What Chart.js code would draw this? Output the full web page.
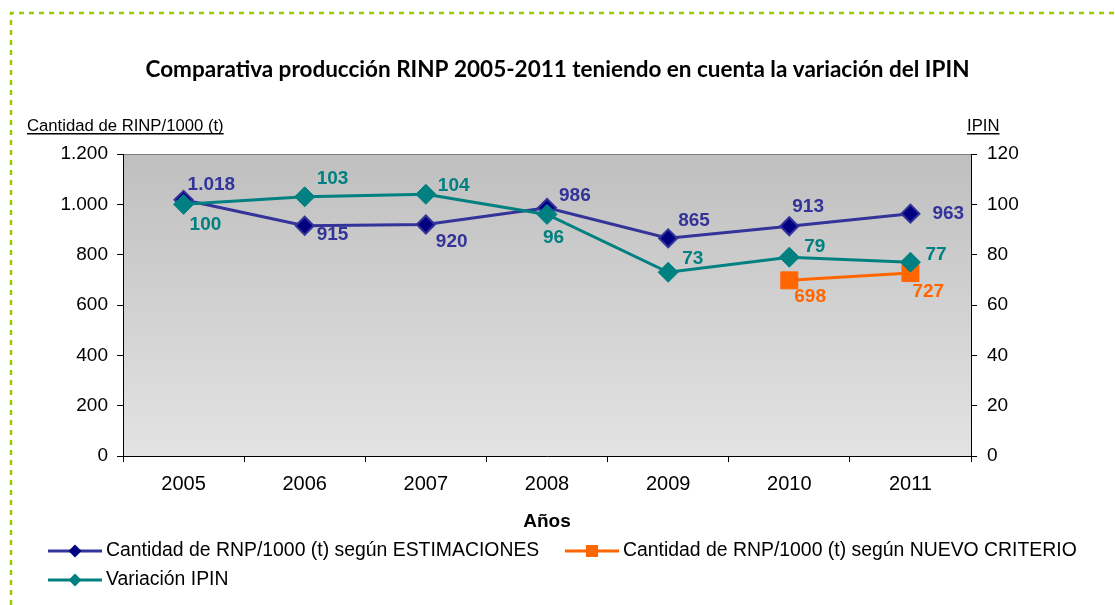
<!DOCTYPE html>
<html>
<head>
<meta charset="utf-8">
<script src="https://cdn.jsdelivr.net/npm/chart.js@4.4.1/dist/chart.umd.min.js"></script>
<style>
  html, body { margin: 0; padding: 0; background: #fff; }
  #wrap { width: 1115px; height: 605px; }
</style>
</head>
<body>
<div id="wrap"><canvas id="rinpChart" width="1115" height="605"></canvas></div>
<script>
// ===== Data =====
const years = ["2005", "2006", "2007", "2008", "2009", "2010", "2011"];
const rinpEstimaciones = [1018, 915, 920, 986, 865, 913, 963];
const rinpNuevoCriterio = [null, null, null, null, null, 698, 727];
const variacionIpin = [100, 103, 104, 96, 73, 79, 77];
const leftTicks = [0, 200, 400, 600, 800, 1000, 1200];
const rightTicks = [0, 20, 40, 60, 80, 100, 120];

// label offsets (px from each point), per series
const offsEstim = [[4, -15], [12, 9], [10, 17], [12, -12], [10, -18], [3, -19], [22, 0]];
const offsNuevo = [null, null, null, null, null, [5, 16], [2, 19]];
const offsIpin = [[6, 20], [12, -18], [12, -9], [-4, 23], [14, -14], [15, -10], [15, -7]];

const BLUE = "#333399", NAVY = "#000080", TEAL = "#008080", ORANGE = "#FF6600";
const FONT = "'Liberation Sans', Arial, sans-serif";

// 1018 -> "1.018"
function fmt(n) {
  return String(n).replace(/\B(?=(\d{3})+(?!\d))/g, ".");
}

// ===== background, frame, axis titles, labels, legend =====
const decor = {
  id: "decor",
  beforeDraw(chart) {
    const ctx = chart.ctx, a = chart.chartArea;
    ctx.save();
    ctx.fillStyle = "#fff";
    ctx.fillRect(0, 0, chart.width, chart.height);
    // dashed green frame (top + left)
    ctx.strokeStyle = "#99CC00";
    ctx.lineWidth = 2.5;
    ctx.setLineDash([5, 5]);
    ctx.beginPath();
    ctx.moveTo(11, chart.height);
    ctx.lineTo(11, 13);
    ctx.lineTo(chart.width, 13);
    ctx.stroke();
    ctx.setLineDash([]);
    // plot area gradient
    const g = ctx.createLinearGradient(0, a.top, 0, a.bottom);
    g.addColorStop(0, "#bfbfbf");
    g.addColorStop(1, "#e3e3e3");
    ctx.fillStyle = g;
    ctx.fillRect(a.left, a.top, a.right - a.left, a.bottom - a.top);
    ctx.strokeStyle = "#808080";
    ctx.lineWidth = 1;
    ctx.beginPath();
    ctx.moveTo(a.left, a.top + 0.5);
    ctx.lineTo(a.right, a.top + 0.5);
    ctx.stroke();
    ctx.restore();
  },
  afterDatasetsDraw(chart) {
    const ctx = chart.ctx;
    const offs = [offsEstim, offsNuevo, offsIpin];
    const cols = [BLUE, ORANGE, TEAL];
    ctx.save();
    ctx.font = "bold 19px " + FONT;
    ctx.textAlign = "left";
    ctx.textBaseline = "middle";
    chart.data.datasets.forEach((ds, i) => {
      const meta = chart.getDatasetMeta(i);
      ctx.fillStyle = cols[i];
      ds.data.forEach((v, j) => {
        if (v == null) return;
        const p = meta.data[j];
        const o = offs[i][j];
        ctx.fillText(fmt(v), p.x + o[0], p.y + o[1]);
      });
    });
    ctx.restore();
  },
  afterDraw(chart) {
    const ctx = chart.ctx, a = chart.chartArea;
    ctx.save();
    // axis titles (underlined)
    ctx.fillStyle = "#000";
    ctx.strokeStyle = "#000";
    ctx.font = "16.7px " + FONT;
    ctx.textBaseline = "middle";
    ctx.textAlign = "left";
    const t1 = "Cantidad de RINP/1000 (t)";
    const x1 = a.left - 96, y1 = a.top - 28;
    ctx.fillText(t1, x1, y1);
    let w = ctx.measureText(t1).width;
    ctx.fillRect(x1, y1 + 7, w, 1.5);
    const t2 = "IPIN";
    const x2 = a.right - 4;
    ctx.fillText(t2, x2, y1);
    w = ctx.measureText(t2).width;
    ctx.fillRect(x2, y1 + 7, w, 1.5);

    // legend
    const items = [
      { text: "Cantidad de RNP/1000 (t) según ESTIMACIONES", color: BLUE, fill: NAVY, shape: "diamond", x: 48, y: 551 },
      { text: "Cantidad de RNP/1000 (t) según NUEVO CRITERIO", color: ORANGE, fill: ORANGE, shape: "square", x: 565, y: 551 },
      { text: "Variación IPIN", color: TEAL, fill: TEAL, shape: "diamond", x: 48, y: 580 }
    ];
    ctx.font = "19.4px " + FONT;
    items.forEach(it => {
      const len = 54, cx = it.x + len / 2;
      ctx.strokeStyle = it.color;
      ctx.lineWidth = 3;
      ctx.beginPath();
      ctx.moveTo(it.x, it.y);
      ctx.lineTo(it.x + len, it.y);
      ctx.stroke();
      ctx.fillStyle = it.fill;
      ctx.beginPath();
      if (it.shape === "diamond") {
        ctx.moveTo(cx, it.y - 6.5);
        ctx.lineTo(cx + 6.5, it.y);
        ctx.lineTo(cx, it.y + 6.5);
        ctx.lineTo(cx - 6.5, it.y);
        ctx.closePath();
      } else {
        ctx.rect(cx - 6, it.y - 6, 12, 12);
      }
      ctx.fill();
      ctx.fillStyle = "#000";
      ctx.fillText(it.text, it.x + len + 4, it.y);
    });
    ctx.restore();
  }
};

// ===== Chart =====
const rinpCtx = document.getElementById("rinpChart");
new Chart(rinpCtx.getContext("2d"), {
  type: "line",
  data: {
    labels: years,
    datasets: [
      {
        label: "Cantidad de RNP/1000 (t) según ESTIMACIONES",
        data: rinpEstimaciones,
        yAxisID: "y",
        borderColor: BLUE,
        borderWidth: 3,
        pointStyle: "rectRot",
        pointRadius: 9,
        pointBackgroundColor: NAVY,
        pointBorderColor: BLUE,
        pointBorderWidth: 2,
        tension: 0,
        order: 3
      },
      {
        label: "Cantidad de RNP/1000 (t) según NUEVO CRITERIO",
        data: rinpNuevoCriterio,
        yAxisID: "y",
        borderColor: ORANGE,
        borderWidth: 3,
        pointStyle: "rect",
        pointRadius: 12,
        pointBackgroundColor: ORANGE,
        pointBorderColor: ORANGE,
        pointBorderWidth: 1,
        tension: 0,
        order: 2
      },
      {
        label: "Variación IPIN",
        data: variacionIpin,
        yAxisID: "y1",
        borderColor: TEAL,
        borderWidth: 3,
        pointStyle: "rectRot",
        pointRadius: 10,
        pointBackgroundColor: TEAL,
        pointBorderColor: TEAL,
        pointBorderWidth: 1,
        tension: 0,
        order: 1
      }
    ]
  },
  options: {
    responsive: false,
    animation: false,
    layout: { padding: { left: 0, right: 0, top: 0, bottom: 72 } },
    plugins: {
      legend: { display: false },
      tooltip: { enabled: false },
      title: {
        display: true,
        text: "Comparativa producción RINP 2005-2011 teniendo en cuenta la variación del IPIN",
        color: "#000",
        font: { family: "Lato, 'Open Sans', sans-serif", size: 22.5, weight: "bold", lineHeight: 1.2 },
        padding: { top: 56, bottom: 71 }
      }
    },
    scales: {
      x: {
        offset: true,
        grid: { offset: true, drawOnChartArea: false, tickLength: 6, color: "#000" },
        border: { color: "#000" },
        ticks: { color: "#000", font: { family: FONT, size: 20 }, padding: 10 },
        title: { display: true, text: "Años", color: "#000", font: { family: FONT, size: 19, weight: "bold" }, padding: 0 },
        afterFit(s) { s.height = 77; }
      },
      y: {
        position: "left",
        min: leftTicks[0],
        max: leftTicks[leftTicks.length - 1],
        afterBuildTicks(s) { s.ticks = leftTicks.map(v => ({ value: v })); },
        grid: { drawOnChartArea: false, tickLength: 6, color: "#000" },
        border: { color: "#000" },
        ticks: { color: "#000", font: { family: FONT, size: 19 }, padding: 9, callback: v => fmt(v) },
        afterFit(s) { s.width = 123; }
      },
      y1: {
        position: "right",
        min: rightTicks[0],
        max: rightTicks[rightTicks.length - 1],
        afterBuildTicks(s) { s.ticks = rightTicks.map(v => ({ value: v })); },
        grid: { drawOnChartArea: false, tickLength: 6, color: "#000" },
        border: { color: "#000" },
        ticks: { color: "#000", font: { family: FONT, size: 19 }, padding: 10 },
        afterFit(s) { s.width = 144; }
      }
    }
  },
  plugins: [decor]
});
</script>
</body>
</html>
